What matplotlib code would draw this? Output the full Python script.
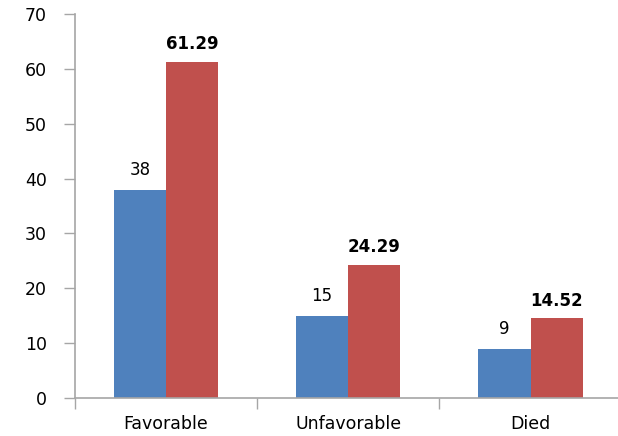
import matplotlib
matplotlib.use("Agg")
import matplotlib.pyplot as plt
import numpy as np

categories = ["Favorable", "Unfavorable", "Died"]
series_a = [38, 15, 9]
series_b = [61.29, 24.29, 14.52]
labels_a = ["38", "15", "9"]
labels_b = ["61.29", "24.29", "14.52"]

BLUE = "#4F81BD"
RED = "#C0504D"
GREY = "#A6A6A6"

fig = plt.figure(figsize=(6.18, 4.36), dpi=100)
ax = fig.add_axes([0.121, 0.087, 0.885, 0.881])

x = np.arange(len(categories))
w = 0.286
ax.bar(x - w / 2, series_a, w, color=BLUE)
ax.bar(x + w / 2, series_b, w, color=RED)

for xi, v, s in zip(x, series_a, labels_a):
    ax.text(xi - w / 2, v + 2.0, s, ha="center", va="bottom", fontsize=12)
for xi, v, s in zip(x, series_b, labels_b):
    ax.text(xi + w / 2, v + 1.6, s, ha="center", va="bottom", fontsize=12,
            fontweight="bold")

ax.set_xlim(-0.5, 2.5)
ax.set_ylim(0, 70)
ax.set_yticks(range(0, 71, 10))
ax.set_xticks(x)
ax.set_xticklabels(categories, fontsize=12.5)
ax.set_xticks([-0.5, 0.5, 1.5, 2.5], minor=True)
ax.tick_params(axis="x", which="major", length=0, pad=12)
ax.tick_params(axis="x", which="minor", length=8, color=GREY, width=1)
ax.tick_params(axis="y", length=8, color=GREY, width=1, labelsize=12.5, pad=12)

for side in ["top", "right"]:
    ax.spines[side].set_visible(False)
for side in ["left", "bottom"]:
    ax.spines[side].set_color(GREY)
    ax.spines[side].set_linewidth(1.2)

plt.savefig("out.png", dpi=100)
plt.close()
